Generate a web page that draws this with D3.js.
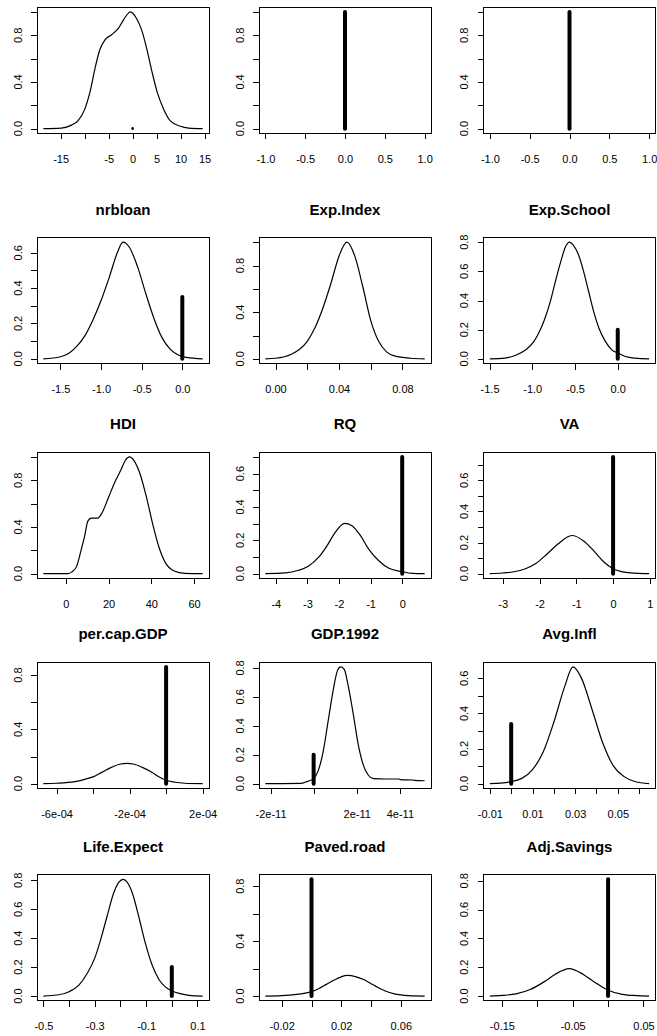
<!DOCTYPE html>
<html><head><meta charset="utf-8">
<script src="https://cdn.jsdelivr.net/npm/d3@7"></script>
<style>
html,body{margin:0;padding:0;background:#fff;}
svg{display:block;font-family:"Liberation Sans",Arial,Helvetica,sans-serif;}
</style></head>
<body>
<svg id="chart" width="657" height="1036"></svg>
<script>
// ---------- DATA ----------
const titles = ["", "", "", "nrbloan", "Exp.Index", "Exp.School", "HDI", "RQ", "VA",
  "per.cap.GDP", "GDP.1992", "Avg.Infl", "Life.Expect", "Paved.road", "Adj.Savings"];

// probability mass at zero (thick bar height)
const probZero = [0.003, 1.0, 1.0, 0.35, 0, 0.2, 0, 0.70, 0.75, 0.86, 0.2, 0.34, 0.2, 0.85, 0.81];

const c0x = [-18.6,-14.85,-12.75,-11.4,-9.96,-8.9,-7.87,-6.8,-5.77,-4.37,-2.97,-1.93,-0.88,-0.5,0.88,1.93,2.98,4.03,5.08,6.47,7.87,9.96,11.7,14.6];
const c0y = [0,0.005,0.03,0.067,0.167,0.31,0.51,0.68,0.76,0.805,0.86,0.93,0.99,1.0,0.94,0.84,0.68,0.49,0.32,0.167,0.067,0.02,0.005,0];
const c1x = [], c1y = [];
const c2x = [], c2y = [];
const c3x = [-1.71,-1.5,-1.4,-1.3,-1.2,-1.1,-1.0,-0.9,-0.8,-0.73,-0.65,-0.55,-0.45,-0.35,-0.25,-0.15,-0.05,0.05,0.25];
const c3y = [0,0.012,0.03,0.07,0.13,0.22,0.33,0.46,0.6,0.66,0.63,0.52,0.37,0.23,0.12,0.055,0.022,0.008,0];
const c4x = [-0.0064,0,0.01,0.015,0.02,0.025,0.03,0.035,0.04,0.045,0.05,0.055,0.06,0.065,0.07,0.075,0.085,0.094];
const c4y = [0,0.005,0.04,0.08,0.15,0.27,0.44,0.65,0.88,1.0,0.88,0.62,0.33,0.15,0.06,0.025,0.005,0];
const c5x = [-1.496,-1.32,-1.2,-1.08,-0.98,-0.906,-0.85,-0.79,-0.73,-0.67,-0.61,-0.565,-0.52,-0.457,-0.4,-0.34,-0.28,-0.22,-0.145,-0.066,0,0.09,0.2,0.367];
const c5y = [0,0.005,0.023,0.06,0.12,0.2,0.28,0.39,0.53,0.66,0.77,0.8,0.78,0.71,0.6,0.46,0.32,0.21,0.12,0.06,0.04,0.016,0.005,0];
const c6x = [-10.5,1,3,5,7,8.9,10.3,11.9,14.9,16.9,19.9,22.8,25.8,27.8,29.8,31.8,34.8,37.8,40.7,43.7,46.7,50.7,55.6,64];
const c6y = [0,0,0.017,0.06,0.19,0.33,0.45,0.476,0.476,0.52,0.65,0.78,0.89,0.97,1.0,0.97,0.85,0.65,0.42,0.22,0.09,0.023,0.003,0];
const c7x = [-4.33,-3.7,-3.28,-2.96,-2.65,-2.38,-2.12,-1.82,-1.59,-1.32,-1.06,-0.74,-0.42,0,0.32,0.71];
const c7y = [0,0.004,0.02,0.046,0.097,0.167,0.248,0.302,0.288,0.228,0.147,0.077,0.032,0.012,0.002,0];
const c8x = [-3.35,-3.0,-2.7,-2.4,-2.1,-1.8,-1.5,-1.12,-0.8,-0.5,-0.25,0,0.3,0.6,0.98];
const c8y = [0,0.004,0.012,0.03,0.065,0.125,0.19,0.245,0.21,0.14,0.075,0.032,0.01,0.003,0];
const c9x = [-6.72e-4,-6e-4,-5e-4,-4.5e-4,-4e-4,-3.5e-4,-3e-4,-2.5e-4,-2.15e-4,-1.8e-4,-1.3e-4,-0.8e-4,-0.4e-4,0,0.5e-4,1.0e-4,2.0e-4];
const c9y = [0,0.003,0.015,0.03,0.05,0.085,0.12,0.145,0.15,0.145,0.12,0.085,0.05,0.025,0.01,0.003,0];
const c10x = [-2.24e-11,-0.58e-11,-0.27e-11,0,0.2e-11,0.44e-11,0.67e-11,0.9e-11,1.1e-11,1.25e-11,1.42e-11,1.6e-11,1.84e-11,2.07e-11,2.3e-11,2.54e-11,2.77e-11,3.32e-11,3.94e-11,4.02e-11,4.57e-11,4.88e-11,5.15e-11];
const c10y = [0,0.002,0.016,0.035,0.085,0.22,0.43,0.64,0.78,0.807,0.79,0.68,0.48,0.27,0.13,0.058,0.035,0.032,0.032,0.028,0.025,0.021,0.02];
const c11x = [-0.01,-0.005,0,0.005,0.01,0.015,0.02,0.025,0.029,0.033,0.038,0.043,0.048,0.053,0.058,0.0647];
const c11y = [0,0.003,0.012,0.03,0.08,0.18,0.35,0.55,0.665,0.6,0.42,0.23,0.1,0.04,0.012,0];
const c12x = [-0.5,-0.446,-0.4,-0.361,-0.329,-0.3,-0.277,-0.252,-0.226,-0.206,-0.189,-0.174,-0.154,-0.129,-0.103,-0.077,-0.049,-0.023,0,0.028,0.067,0.12];
const c12y = [0,0.007,0.03,0.077,0.158,0.262,0.39,0.552,0.714,0.788,0.807,0.788,0.714,0.552,0.366,0.216,0.111,0.06,0.037,0.018,0.005,0];
const c13x = [-0.031,-0.02,-0.01,-0.005,0,0.005,0.01,0.015,0.02,0.024,0.03,0.035,0.04,0.045,0.05,0.055,0.06,0.065,0.076];
const c13y = [0,0.003,0.012,0.02,0.032,0.055,0.085,0.115,0.14,0.15,0.14,0.12,0.09,0.06,0.035,0.018,0.008,0.003,0];
const c14x = [-0.167,-0.15,-0.13,-0.11,-0.09,-0.075,-0.055,-0.035,-0.02,0,0.02,0.04,0.058];
const c14y = [0,0.004,0.015,0.045,0.1,0.15,0.19,0.15,0.1,0.04,0.012,0.003,0];

// x tick values and labels (blank = label dropped in original)
const xt0 = [-15,-10,-5,0,5,10,15],            xl0 = ["-15","","-5","0","5","10","15"];
const xtUnit = [-1,-0.5,0,0.5,1],              xlUnit = ["-1.0","-0.5","0.0","0.5","1.0"];
const xt3 = [-1.5,-1,-0.5,0],                  xl3 = ["-1.5","-1.0","-0.5","0.0"];
const xt4 = [0,0.02,0.04,0.06,0.08],           xl4 = ["0.00","","0.04","","0.08"];
const xt6 = [0,20,40,60],                      xl6 = ["0","20","40","60"];
const xt7 = [-4,-3,-2,-1,0],                   xl7 = ["-4","-3","-2","-1","0"];
const xt8 = [-3,-2,-1,0,1],                    xl8 = ["-3","-2","-1","0","1"];
const xt9 = [-6e-4,-4e-4,-2e-4,0,2e-4],        xl9 = ["-6e-04","","-2e-04","","2e-04"];
const xt10 = [-2e-11,0,2e-11,4e-11],           xl10 = ["-2e-11","","2e-11","4e-11"];
const xt11 = [-0.01,0,0.01,0.02,0.03,0.04,0.05,0.06], xl11 = ["-0.01","","0.01","","0.03","","0.05",""];
const xt12 = [-0.5,-0.4,-0.3,-0.2,-0.1,0,0.1], xl12 = ["-0.5","","-0.3","","-0.1","","0.1"];
const xt13 = [-0.02,0,0.02,0.04,0.06],         xl13 = ["-0.02","","0.02","","0.06"];
const xt14 = [-0.15,-0.1,-0.05,0,0.05],        xl14 = ["-0.15","","-0.05","","0.05"];

// y tick values and labels
const ytA = [0,0.2,0.4,0.6,0.8,1.0], ylA = ["0.0","","0.4","","0.8",""];
const ytB = [0,0.1,0.2,0.3,0.4,0.5,0.6], ylB = ["0.0","","0.2","","0.4","","0.6"];
const ytC = [0,0.2,0.4,0.6,0.8], ylC = ["0.0","0.2","0.4","0.6","0.8"];
const ytD = [0,0.1,0.2,0.3,0.4,0.5,0.6,0.7], ylD = ["0.0","","0.2","","0.4","","0.6",""];
const ytE = [0,0.2,0.4,0.6,0.8], ylE = ["0.0","","0.4","","0.8"];

// ---------- TABLE ----------
const curveX = [c0x,c1x,c2x,c3x,c4x,c5x,c6x,c7x,c8x,c9x,c10x,c11x,c12x,c13x,c14x];
const curveY = [c0y,c1y,c2y,c3y,c4y,c5y,c6y,c7y,c8y,c9y,c10y,c11y,c12y,c13y,c14y];
const xTicks = [xt0,xtUnit,xtUnit,xt3,xt4,xt3,xt6,xt7,xt8,xt9,xt10,xt11,xt12,xt13,xt14];
const xLabels = [xl0,xlUnit,xlUnit,xl3,xl4,xl3,xl6,xl7,xl8,xl9,xl10,xl11,xl12,xl13,xl14];
const yTicks = [ytA,ytA,ytA,ytB,ytA,ytC,ytA,ytD,ytD,ytE,ytC,ytB,ytC,ytE,ytC];
const yLabels = [ylA,ylA,ylA,ylB,ylA,ylC,ylA,ylD,ylD,ylE,ylC,ylB,ylC,ylE,ylC];

// ---------- LAYOUT ----------
const colLeft = [37, 259, 483.5];
const rowTop = [7.3, 237.5, 452.3, 662.3, 874.7];
const boxW = 172, boxH = 126;

const svg = d3.select("#chart");

titles.forEach((title, i) => {
  const col = i % 3, row = Math.floor(i / 3);
  const L = colLeft[col], T = rowTop[row];
  const xs = curveX[i], ys = curveY[i];
  const pts = xs.map((x, k) => [x, ys[k]]);

  let xmin = -1, xmax = 1;
  if (xs.length) { xmin = Math.min(d3.min(xs), 0); xmax = Math.max(d3.max(xs), 0); }
  const r = xmax - xmin;
  const x = d3.scaleLinear().domain([xmin - 0.04 * r, xmax + 0.04 * r]).range([L, L + boxW]);
  const M = Math.max(ys.length ? d3.max(ys) : 0, probZero[i]);
  const y = d3.scaleLinear().domain([-0.04 * M, 1.04 * M]).range([T + boxH, T]);

  const g = svg.append("g");

  // density curve
  if (pts.length) {
    g.append("path")
      .datum(pts)
      .attr("fill", "none")
      .attr("stroke", "#000")
      .attr("stroke-width", 1.2)
      .attr("d", d3.line().x(d => x(d[0])).y(d => y(d[1])).curve(d3.curveMonotoneX));
  }

  // thick bar at zero
  if (probZero[i] > 0) {
    const tiny = probZero[i] < 0.01;
    g.append("line")
      .attr("x1", x(0)).attr("x2", x(0))
      .attr("y1", y(0)).attr("y2", y(probZero[i]))
      .attr("stroke", "#000").attr("stroke-width", tiny ? 2.5 : 4)
      .attr("stroke-linecap", "round");
  }

  // box
  g.append("rect")
    .attr("x", L).attr("y", T).attr("width", boxW).attr("height", boxH)
    .attr("fill", "none").attr("stroke", "#000").attr("stroke-width", 1)
    .attr("shape-rendering", "crispEdges");

  // x axis
  const xl = xLabels[i];
  const xa = g.append("g").attr("transform", `translate(0,${T + boxH})`)
    .call(d3.axisBottom(x).tickValues(xTicks[i]).tickFormat((d, k) => xl[k])
      .tickSize(6).tickSizeOuter(0).tickPadding(16));
  xa.select(".domain").remove();
  xa.selectAll("line").attr("stroke", "#000").attr("shape-rendering", "crispEdges");
  xa.selectAll("text").attr("font-size", 11).attr("fill", "#000")
    .attr("font-family", "'Liberation Sans',Arial,sans-serif");

  // y axis
  const yl = yLabels[i];
  const ya = g.append("g").attr("transform", `translate(${L},0)`)
    .call(d3.axisLeft(y).tickValues(yTicks[i]).tickFormat("").tickSize(6).tickSizeOuter(0));
  ya.select(".domain").remove();
  ya.selectAll("line").attr("stroke", "#000").attr("shape-rendering", "crispEdges");
  yTicks[i].forEach((v, k) => {
    if (!yl[k]) return;
    g.append("text")
      .attr("transform", `translate(${L - 19},${y(v)}) rotate(-90)`)
      .attr("text-anchor", "middle").attr("dy", "0.35em")
      .attr("font-size", 11).attr("fill", "#000")
      .text(yl[k]);
  });

  // title
  if (title) {
    g.append("text")
      .attr("x", L + boxW / 2).attr("y", T - 23)
      .attr("text-anchor", "middle")
      .attr("font-size", 15).attr("font-weight", "bold").attr("fill", "#000")
      .text(title);
  }
});
</script>
</body></html>
